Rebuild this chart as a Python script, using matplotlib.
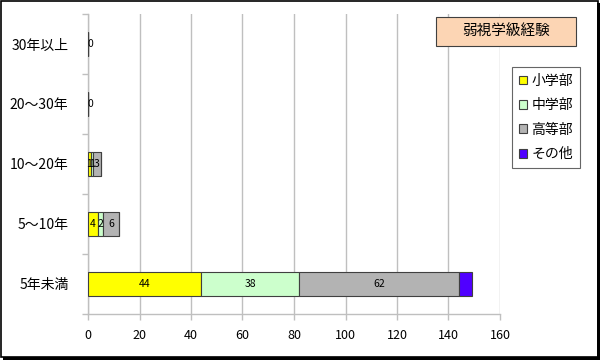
import matplotlib
matplotlib.use("Agg")
import matplotlib.pyplot as plt
from matplotlib.patches import Patch, Rectangle
import numpy as np

plt.rcParams['font.family'] = ['Noto Sans CJK JP', 'DejaVu Sans']

categories = ["5年未満", "5〜10年", "10〜20年", "20〜30年", "30年以上"]
series_names = ["小学部", "中学部", "高等部", "その他"]
shogakubu = [44, 4, 1, 0, 0]
chugakubu = [38, 2, 1, 0, 0]
kotobu = [62, 6, 3, 0, 0]
sonota = [5, 0, 0, 0, 0]
colors = ["#FFFF00", "#CCFFCC", "#B3B3B3", "#5000FF"]
title = "弱視学級経験"
xticks = [0, 20, 40, 60, 80, 100, 120, 140, 160]

fig = plt.figure(figsize=(6, 3.6), dpi=100)
ax = fig.add_axes([88/600, 1-314/360, 412/600, 300/360])

y = np.arange(len(categories))
left = np.zeros(len(categories))
series = [shogakubu, chugakubu, kotobu, sonota]
for i, (vals, c) in enumerate(zip(series, colors)):
    vals = np.array(vals, dtype=float)
    ax.barh(y, vals, left=left, height=0.4, color=c, edgecolor="#404040",
            linewidth=0.8, zorder=3)
    if i < 3:
        for yi, (l, v) in enumerate(zip(left, vals)):
            if v > 0:
                ax.text(l + v/2, yi, f"{int(v)}", ha="center", va="center",
                        fontsize=7.5, zorder=4)
    left += vals

# zero labels for empty rows
for yi, tot in enumerate(left):
    if tot == 0:
        ax.text(0.9, yi, "0", ha="center", va="center", fontsize=7.5, zorder=4)

ax.set_xlim(0, 160)
ax.set_ylim(-0.5, len(categories) - 0.5)
ax.set_xticks(xticks)
ax.set_xticklabels([str(t) for t in xticks], fontsize=9)
ax.set_yticks(y)
ax.set_yticklabels(categories, fontsize=10)
ax.set_yticks(np.arange(-0.5, len(categories), 1), minor=True)
ax.tick_params(axis='y', which='major', length=0, pad=14)
ax.tick_params(axis='y', which='minor', length=4, color="#BFBFBF", width=1)
ax.tick_params(axis='x', length=4, color="#BFBFBF", width=1, pad=7)
ax.grid(axis='x', color="#BFBFBF", linewidth=1, zorder=0)
for s in ['top', 'right']:
    ax.spines[s].set_visible(False)
for s in ['left', 'bottom']:
    ax.spines[s].set_color("#BFBFBF")
    ax.spines[s].set_linewidth(1)

# title box
fig.patches.append(Rectangle((436/600, 1-46/360), 140/600, 29/360,
                             transform=fig.transFigure, facecolor="#FCD5B4",
                             edgecolor="#404040", linewidth=0.8, zorder=5))
fig.text(506/600, 1-31.5/360, title, ha="center", va="center", fontsize=10.5,
         zorder=6)

handles = [Patch(facecolor=c, edgecolor="#404040", linewidth=0.8) for c in colors]
leg = fig.legend(handles, series_names, loc="upper left",
                 bbox_to_anchor=(512/600, 1-67/360), fontsize=10,
                 frameon=True, fancybox=False, edgecolor="#404040",
                 handlelength=0.6, handleheight=0.6, handletextpad=0.3,
                 labelspacing=0.75, borderpad=0.5, borderaxespad=0)
leg.get_frame().set_linewidth(0.8)

# figure border with shadow
fig.patches.append(Rectangle((1/600, 3/360), 597/600, 356/360, transform=fig.transFigure,
                             fill=False, edgecolor="black", linewidth=1.2))
fig.patches.append(Rectangle((3/600, 0), 597/600, 3/360, transform=fig.transFigure,
                             facecolor="black", edgecolor="none"))
fig.patches.append(Rectangle((597/600, 0), 3/600, 357/360, transform=fig.transFigure,
                             facecolor="black", edgecolor="none"))

fig.savefig("out.png", dpi=100)
